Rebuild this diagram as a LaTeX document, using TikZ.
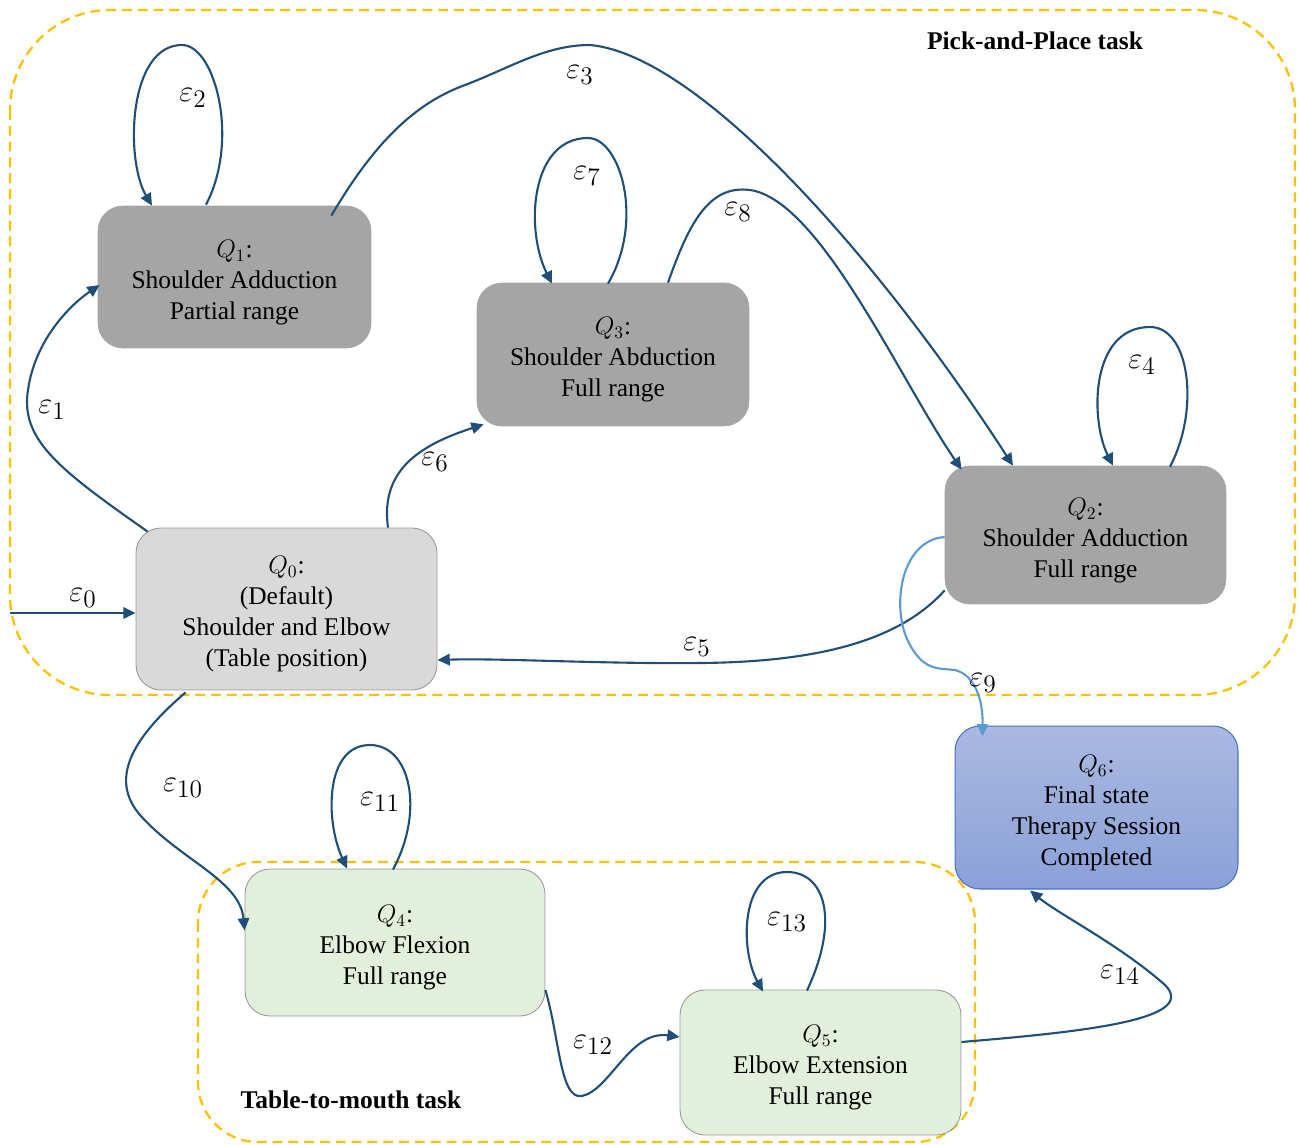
\documentclass[tikz,border=0pt]{standalone}
\usepackage{fontspec}
\setmainfont{Liberation Serif}
\usetikzlibrary{arrows.meta,calc}
\definecolor{edgeblue}{HTML}{1F4E79}
\definecolor{lightedge}{HTML}{5B9BD5}
\definecolor{taskorange}{HTML}{FFC000}
\definecolor{darkgrey}{HTML}{A5A5A5}
\definecolor{lightgrey}{HTML}{D9D9D9}
\definecolor{palegreen}{HTML}{E2EFDA}
\definecolor{finaltop}{HTML}{AAB9E1}
\definecolor{finalbot}{HTML}{8AA1D8}
\definecolor{finalborder}{HTML}{4472C4}
\newcommand\mytopstrut{\rule{0pt}{15.8pt}}
\begin{document}
\begin{tikzpicture}[x=0.02cm,y=-0.02cm,
  every node/.style={font=\fontsize{14.5}{17.6}\selectfont},
  statebox/.style={rounded corners=0.5cm, align=center, inner sep=0pt},
  darkstate/.style={statebox, fill=darkgrey, draw=darkgrey},
  defstate/.style={statebox, fill=lightgrey, draw=gray!80, line width=0.5pt},
  greenstate/.style={statebox, fill=palegreen, draw=gray!80, line width=0.5pt},
  finalstate/.style={statebox, top color=finaltop, bottom color=finalbot, draw=finalborder, line width=0.6pt},
  trans/.style={draw=edgeblue, line width=1.2pt, -{Triangle[length=7pt,width=6.5pt]}},
  lighttrans/.style={draw=lightedge, line width=1.2pt, -{Triangle[length=7pt,width=6.5pt]}},
  tasks/.style={draw=taskorange, line width=1.3pt, dash pattern=on 5.6pt off 3.4pt},
  elabel/.style={font=\fontsize{19}{22}\selectfont, inner sep=0pt},
  tasklabel/.style={font=\fontsize{14.5}{17.6}\selectfont\bfseries, inner sep=0pt}
]
\useasboundingbox (0,0) rectangle (1299,1144);

% task regions
\draw[tasks, rounded corners=2cm] (10,10) rectangle (1295,695);
\draw[tasks, rounded corners=1.2cm] (198,862) rectangle (975,1142);
\node[tasklabel] (tpp) at (1035,41) {Pick-and-Place task};
\node[tasklabel] (ttm) at (351,1100) {Table-to-mouth task};

% states
\node[darkstate, minimum width=5.46cm, minimum height=2.84cm] (q1) at (234.5,277)
  {\mytopstrut$Q_1$:\\Shoulder Adduction\\Partial range};
\node[darkstate, minimum width=5.44cm, minimum height=2.86cm] (q3) at (613,354.5)
  {\mytopstrut$Q_3$:\\Shoulder Abduction\\Full range};
\node[darkstate, minimum width=5.62cm, minimum height=2.76cm] (q2) at (1085.5,535)
  {\mytopstrut$Q_2$:\\Shoulder Adduction\\Full range};
\node[defstate, minimum width=6.02cm, minimum height=3.24cm] (q0) at (286.5,609)
  {\mytopstrut$Q_0$:\\(Default)\\Shoulder and Elbow\\(Table position)};
\node[finalstate, minimum width=5.66cm, minimum height=3.26cm] (q6) at (1096.5,807.5)
  {\mytopstrut$Q_6$:\\Final state\\Therapy Session\\Completed};
\node[greenstate, minimum width=6.0cm, minimum height=2.94cm] (q4) at (395,942.5)
  {\mytopstrut$Q_4$:\\Elbow Flexion\\Full range};
\node[greenstate, minimum width=5.62cm, minimum height=2.9cm] (q5) at (820.5,1062.5)
  {\mytopstrut$Q_5$:\\Elbow Extension\\Full range};

% entry
\coordinate (start0) at (10,613);
\draw[trans] (start0) -- ($(q0.west)+(0,4)$);
\node[elabel] (l0) at (83,598) {$\varepsilon_{0}$};

% e1
\draw[trans] ($(q0.north west)+(12,4)$) .. controls (60,470) and (20,440) .. (28,390)
  .. controls (35,340) and (70,305) .. ($(q1.west)+(2,8)$);
\node[elabel] (l1) at (52,410) {$\varepsilon_{1}$};

% e2 loop
\draw[trans] ($(q1.north)+(-28.5,-1)$) .. controls (240,140) and (215,45) .. (182,45)
  .. controls (128,45) and (125,160) .. ($(q1.north)+(-82.5,0)$);
\node[elabel] (l2) at (193,98) {$\varepsilon_{2}$};

% e3
\draw[trans] ($(q1.north east)+(-40,10)$) .. controls (370,150) and (410,105) .. (465,85)
  .. controls (510,68) and (545,45) .. (590,45)
  .. controls (700,55) and (880,260) .. ($(q2.north)+(-72.5,0)$);
\node[elabel] (l3) at (580,75) {$\varepsilon_{3}$};

% e4 loop
\draw[trans] ($(q2.north)+(84.5,1)$) .. controls (1200,410) and (1190,327) .. (1150,327)
  .. controls (1090,327) and (1090,420) .. ($(q2.north)+(27.5,0)$);
\node[elabel] (l4) at (1142,365) {$\varepsilon_{4}$};

% e5
\draw[trans] ($(q2.south west)+(0,-14)$) .. controls (900,640) and (820,662) .. (700,663)
  .. controls (600,664) and (500,658) .. ($(q0.east)+(0,51)$);
\node[elabel] (l5) at (697,647) {$\varepsilon_{5}$};

% e6
\draw[trans] ($(q0.north)+(101.5,0)$) .. controls (380,470) and (420,445) .. ($(q3.south west)+(7,-2)$);
\node[elabel] (l6) at (435,462) {$\varepsilon_{6}$};

% e7 loop
\draw[trans] ($(q3.north)+(-5,1)$) .. controls (645,220) and (620,138) .. (588,138)
  .. controls (530,138) and (525,230) .. ($(q3.north)+(-61,1)$);
\node[elabel] (l7) at (587,176) {$\varepsilon_{7}$};

% e8
\draw[trans] ($(q3.north)+(55,0)$) .. controls (690,220) and (710,185) .. (750,190)
  .. controls (820,200) and (900,380) .. ($(q2.north west)+(17,4)$);
\node[elabel] (l8) at (738,212) {$\varepsilon_{8}$};

% e9
\draw[lighttrans] ($(q2.west)+(0,2)$) .. controls (900,540) and (890,610) .. (910,645)
  .. controls (925,672) and (940,668) .. (955,670)
  .. controls (975,675) and (983,700) .. ($(q6.north west)+(28,11)$);
\node[elabel] (l9) at (983,683) {$\varepsilon_{9}$};

% e10
\draw[trans] ($(q0.south west)+(50,2)$) .. controls (130,740) and (110,780) .. (140,815)
  .. controls (180,860) and (240,880) .. ($(q4.west)+(0,-12)$);
\node[elabel] (l10) at (183,788) {$\varepsilon_{10}$};

% e11 loop
\draw[trans] ($(q4.north)+(-2,1)$) .. controls (425,810) and (410,745) .. (370,745)
  .. controls (325,745) and (325,820) .. ($(q4.north)+(-48,0)$);
\node[elabel] (l11) at (380,802) {$\varepsilon_{11}$};

% e12
\draw[trans] ($(q4.east)+(0,47.5)$) .. controls (560,1040) and (560,1100) .. (582,1096)
  .. controls (610,1090) and (630,1030) .. ($(q5.west)+(0,-25.5)$);
\node[elabel] (l12) at (593,1045) {$\varepsilon_{12}$};

% e13 loop
\draw[trans] ($(q5.north)+(-13.5,1)$) .. controls (840,920) and (825,872) .. (787,872)
  .. controls (740,872) and (740,950) .. ($(q5.north)+(-57.5,2)$);
\node[elabel] (l13) at (787,922) {$\varepsilon_{13}$};

% e14
\draw[trans] ($(q5.east)+(0,-20.5)$) .. controls (1080,1032) and (1200,1020) .. (1165,985)
  .. controls (1120,945) and (1060,915) .. ($(q6.south)+(-66.5,1)$);
\node[elabel] (l14) at (1120,975) {$\varepsilon_{14}$};
\end{tikzpicture}
\end{document}
